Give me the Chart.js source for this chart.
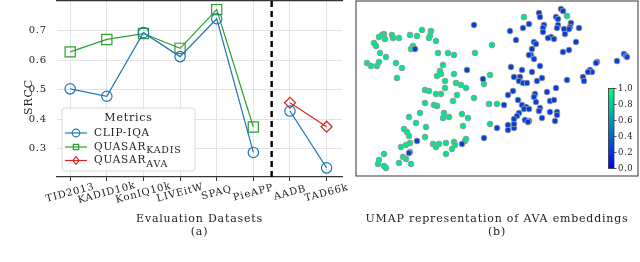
<!DOCTYPE html>
<html><head><meta charset="utf-8">
<script src="https://cdn.jsdelivr.net/npm/chart.js@4.4.0/dist/chart.umd.min.js"></script>
<style>
html,body{margin:0;padding:0;background:#fff;}
body{width:640px;height:262px;position:relative;overflow:hidden;}
#ca{position:absolute;left:0;top:0;}
#cb{position:absolute;left:345px;top:0;}
</style></head><body>
<canvas id="ca" width="360" height="262"></canvas>
<canvas id="cb" width="295" height="262"></canvas>
<script>
// ---------- Panel (a) data ----------
const evalDatasets = ['TID2013','KADID10k','KonIQ10k','LIVEitW','SPAQ','PieAPP','AADB','TAD66k'];
const clipIqa     = [0.503, 0.478, 0.693, 0.612, 0.740, 0.288, 0.428, 0.236];
const quasarKadis = [0.628, 0.670, 0.690, 0.640, 0.771, 0.374, null, null];
const quasarAva   = [null, null, null, null, null, null, 0.456, 0.375];
const seriesNames = ['CLIP-IQA', 'QUASAR', 'QUASAR'];
const seriesSubs  = ['', 'KADIS', 'AVA'];
const yTickValues = [0.3, 0.4, 0.5, 0.6, 0.7];
const yAxisLabel = 'SRCC';
const splitAt = 5.5;

// ---------- Panel (b) data (UMAP 2-D embedding) ----------
const umapX = [422,431,430,429,436,410,417,399,392,393,384,382,379,385,374,376,380,386,413,411,
  367,371,377,379,396,402,397,438,448,454,475,492,443,440,441,437,454,490,484,445,
  456,461,466,425,429,445,436,441,457,474,453,425,434,437,489,497,420,444,462,409,
  443,449,468,416,426,463,490,404,407,409,410,406,401,425,410,403,406,399,411,384,
  379,378,384,386,433,436,439,446,446,454,455,465,466,452,524,567,
  415,474,467,483,497,417,409,462,484,504,508,508,514,514,
  539,540,561,563,556,558,529,523,510,544,543,543,558,557,571,570,569,564,579,565,
  551,548,554,516,534,536,576,532,531,563,569,529,534,624,626,627,617,597,596,540,
  511,522,532,590,592,588,514,520,519,523,527,542,537,583,584,567,556,547,513,508,
  535,534,536,518,550,554,522,526,524,529,540,539,550,557,519,517,557,525,529,514,
  542,555,528];
const umapY = [30,31,36,38,41,35,36,38,35,38,34,35,37,39,43,46,53,57,46,49,
  63,66,66,62,63,68,78,53,53,55,53,45,65,71,74,76,74,75,84,81,
  83,85,88,90,91,88,94,94,95,98,101,103,105,106,104,104,113,113,114,117,
  118,117,118,123,127,126,124,129,132,136,143,145,147,137,152,157,159,163,164,154,
  160,164,166,168,144,147,144,143,154,142,145,141,139,149,17,16,
  49,25,70,79,128,141,153,144,138,105,125,130,128,124,
  13,17,9,11,17,19,24,28,31,25,28,32,25,28,23,27,29,29,28,34,
  37,38,39,40,42,44,42,49,55,52,50,55,59,54,56,57,61,62,63,66,
  67,70,72,70,72,72,77,77,81,83,83,78,81,77,81,80,88,92,91,95,
  94,97,102,100,101,100,105,107,109,109,108,111,112,112,113,116,115,120,121,119,
  118,121,122];
const umapValue = umapX.map((_, i) => i < 96 ? 0.9 : 0.25);
const colorbarTicks = [0.0, 0.2, 0.4, 0.6, 0.8, 1.0];

// ---------- shared style ----------
const FONT = 'DejaVu Serif';
const TXT = '#222';
const GRID = '#e3e3e3';
const C_BLUE = '#1f77b4', C_GREEN = '#2ca02c', C_RED = '#d62728';

function winter(v) {
  return `rgb(0,${Math.round(255 * v)},${Math.round(255 - 127.5 * v)})`;
}
function spacing(chart) { chart.ctx.letterSpacing = '0.8px'; }

function toPoints(arr, breakAt) {
  const pts = [];
  arr.forEach((v, i) => {
    if (breakAt !== undefined && i > breakAt && i - 1 < breakAt) pts.push({x: breakAt, y: null});
    if (v !== null) pts.push({x: i, y: v});
  });
  return pts;
}

function drawMarker(ctx, style, x, y, r) {
  ctx.beginPath();
  if (style === 'circle') ctx.arc(x, y, r, 0, 2 * Math.PI);
  else if (style === 'rect') { const s = r * Math.SQRT1_2; ctx.rect(x - s, y - s, 2 * s, 2 * s); }
  else { ctx.moveTo(x, y - r); ctx.lineTo(x + r * 0.8, y); ctx.lineTo(x, y + r); ctx.lineTo(x - r * 0.8, y); ctx.closePath(); }
  ctx.stroke();
}

const panelAPlugin = {
  id: 'panelA',
  beforeDraw(chart) { spacing(chart); },
  beforeDatasetsDraw(chart) {
    const {ctx, chartArea, scales} = chart;
    const xs = scales.x.getPixelForValue(splitAt);
    ctx.save();
    ctx.strokeStyle = '#000'; ctx.lineWidth = 2.4; ctx.setLineDash([6, 4]);
    ctx.beginPath(); ctx.moveTo(xs, chartArea.top); ctx.lineTo(xs, chartArea.bottom); ctx.stroke();
    ctx.restore();
  },
  afterDatasetsDraw(chart) {
    const {ctx, scales, chartArea} = chart;
    ctx.save();
    ctx.letterSpacing = '0.8px';
    ctx.fillStyle = TXT;
    // y axis label
    ctx.save(); ctx.translate(29, 97); ctx.rotate(-Math.PI / 2);
    ctx.font = `11px "${FONT}"`; ctx.textAlign = 'center'; ctx.textBaseline = 'middle';
    ctx.fillText(yAxisLabel, 0, 0); ctx.restore();
    // rotated category labels
    ctx.font = `10px "${FONT}"`;
    ctx.textAlign = 'center'; ctx.textBaseline = 'middle';
    evalDatasets.forEach((lab, i) => {
      const x = scales.x.getPixelForValue(i);
      ctx.save(); ctx.translate(x, chartArea.bottom + 16); ctx.rotate(-15 * Math.PI / 180);
      ctx.fillText(lab, 0, 0); ctx.restore();
    });
    // legend
    const bx = 62, by = 108, bw = 133, bh = 63;
    ctx.beginPath();
    ctx.roundRect(bx, by, bw, bh, 3);
    ctx.fillStyle = 'rgba(255,255,255,0.88)'; ctx.fill();
    ctx.strokeStyle = '#d0d0d0'; ctx.lineWidth = 0.8; ctx.stroke();
    ctx.fillStyle = TXT; ctx.font = `11px "${FONT}"`; ctx.textAlign = 'center';
    ctx.fillText('Metrics', bx + bw / 2, by + 10);
    const ds = chart.data.datasets;
    const rows = [133, 147, 160.5];
    ds.forEach((d, k) => {
      const y = rows[k];
      ctx.strokeStyle = d.borderColor; ctx.lineWidth = 1.2; ctx.setLineDash([]);
      ctx.beginPath(); ctx.moveTo(65, y); ctx.lineTo(87, y); ctx.stroke();
      drawMarker(ctx, d.pointStyle, 76, y, 3.8);
      ctx.fillStyle = TXT; ctx.textAlign = 'left'; ctx.font = `10.5px "${FONT}"`;
      ctx.fillText(seriesNames[k], 94, y);
      if (seriesSubs[k]) {
        const w = ctx.measureText(seriesNames[k]).width;
        ctx.font = `9.5px "${FONT}"`;
        ctx.fillText(seriesSubs[k], 94 + w, y + 4);
      }
    });
    ctx.restore();
  }
};

new Chart(document.getElementById('ca'), {
  type: 'line',
  data: {
    datasets: [
      {label: 'CLIP-IQA', data: toPoints(clipIqa, splitAt), borderColor: C_BLUE, pointStyle: 'circle', pointRadius: 5.2},
      {label: 'QUASAR KADIS', data: toPoints(quasarKadis), borderColor: C_GREEN, pointStyle: 'rect', pointRadius: 7.2},
      {label: 'QUASAR AVA', data: toPoints(quasarAva), borderColor: C_RED, pointStyle: 'rectRot', pointRadius: 5.5}
    ].map(d => Object.assign(d, {backgroundColor: 'rgba(0,0,0,0)', pointBackgroundColor: 'rgba(0,0,0,0)',
      pointBorderColor: d.borderColor, borderWidth: 1.2, pointBorderWidth: 1.2, spanGaps: false, tension: 0, clip: false}))
  },
  options: {
    responsive: false, animation: false,
    layout: {autoPadding: false, padding: {left: 0, right: 18, top: 0, bottom: 0}},
    plugins: {legend: {display: false}, tooltip: {enabled: false}},
    scales: {
      x: {
        type: 'linear', position: 'bottom', min: -0.36, max: 7.42,
        afterBuildTicks: s => { s.ticks = evalDatasets.map((_, i) => ({value: i})); },
        afterFit: s => { s.height = 85; s.paddingLeft = 0; s.paddingRight = 0; },
        ticks: {display: false},
        grid: {color: GRID, lineWidth: 1, drawTicks: true, tickLength: 4, tickColor: '#333', tickWidth: 1},
        border: {display: true, color: '#333', width: 1.2},
        title: {display: true, text: ['Evaluation Datasets', '(a)'], color: TXT,
          font: {family: FONT, size: 11, lineHeight: 1.15}, padding: {top: 0, bottom: 24}}
      },
      xTop: {
        type: 'linear', position: 'top', min: -0.36, max: 7.42,
        afterFit: s => { s.height = 1; s.paddingLeft = 0; s.paddingRight = 0; },
        ticks: {display: false}, grid: {display: false},
        border: {display: true, color: '#333', width: 1.2}
      },
      y: {
        type: 'linear', min: 0.205, max: 0.8,
        afterBuildTicks: s => { s.ticks = yTickValues.map(v => ({value: v})); },
        afterFit: s => { s.width = 57; s.paddingTop = 0; s.paddingBottom = 0; },
        ticks: {padding: 10, color: TXT, font: {family: FONT, size: 10}, callback: v => Number(v).toFixed(1)},
        grid: {color: GRID, lineWidth: 1, drawTicks: false},
        border: {display: false},
        title: {display: false}
      }
    }
  },
  plugins: [panelAPlugin]
});

// ---------- Panel (b) ----------
const panelBPlugin = {
  id: 'panelB',
  beforeDraw(chart) { spacing(chart); },
  beforeDatasetsDraw(chart) {
    const {ctx, chartArea: a} = chart;
    ctx.save();
    ctx.strokeStyle = '#444'; ctx.lineWidth = 1.1;
    ctx.strokeRect(a.left, a.top, a.right - a.left, a.bottom - a.top);
    ctx.restore();
  },
  afterDatasetsDraw(chart) {
    const {ctx, chartArea: a} = chart;
    const x0 = a.right - 29.5, w = 5.5, top = 88.5, bot = 168.5;
    ctx.save();
    const g = ctx.createLinearGradient(0, bot, 0, top);
    g.addColorStop(0, winter(0)); g.addColorStop(1, winter(1));
    ctx.fillStyle = g; ctx.fillRect(x0, top, w, bot - top);
    ctx.strokeStyle = '#333'; ctx.lineWidth = 0.8; ctx.strokeRect(x0, top, w, bot - top);
    ctx.fillStyle = TXT; ctx.font = `8.5px "${FONT}"`; ctx.textAlign = 'left'; ctx.textBaseline = 'middle';
    ctx.letterSpacing = '0.6px';
    colorbarTicks.forEach(v => {
      const y = bot - v * (bot - top);
      ctx.beginPath(); ctx.moveTo(x0 + w, y); ctx.lineTo(x0 + w + 2.5, y); ctx.stroke();
      ctx.fillText(v.toFixed(1), x0 + w + 4, y);
    });
    ctx.restore();
  }
};

new Chart(document.getElementById('cb'), {
  type: 'scatter',
  data: {
    datasets: [{
      data: umapX.map((x, i) => ({x, y: umapY[i]})),
      pointRadius: 2.9,
      pointBackgroundColor: c => winter(umapValue[c.dataIndex]),
      pointBorderColor: '#999', pointBorderWidth: 0.9
    }]
  },
  options: {
    responsive: false, animation: false,
    layout: {autoPadding: false, padding: {left: 11, right: 2, top: 1, bottom: 0}},
    plugins: {legend: {display: false}, tooltip: {enabled: false}},
    scales: {
      x: {
        type: 'linear', min: 356, max: 638,
        afterFit: s => { s.height = 86; s.paddingLeft = 0; s.paddingRight = 0; },
        ticks: {display: false}, grid: {display: false}, border: {display: false},
        title: {display: true, text: ['UMAP representation of AVA embeddings', '(b)'], color: TXT,
          font: {family: FONT, size: 11, lineHeight: 1.15}, padding: {top: 0, bottom: 24}}
      },
      y: {type: 'linear', min: 1, max: 176, reverse: true, display: false}
    }
  },
  plugins: [panelBPlugin]
});
</script>
</body></html>
